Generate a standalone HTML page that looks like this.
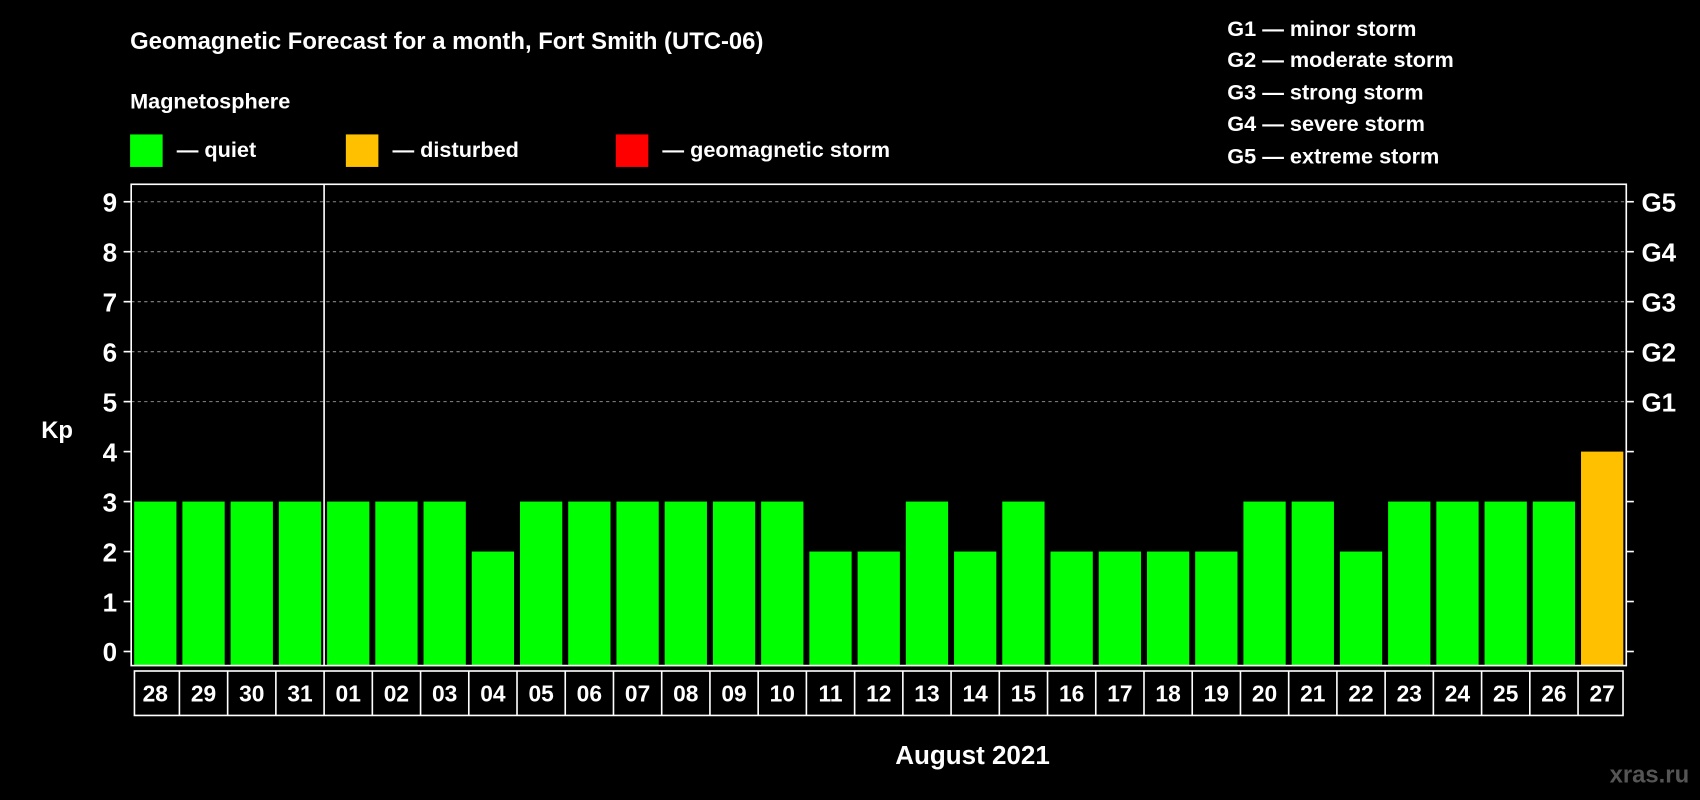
<!DOCTYPE html>
<html><head><meta charset="utf-8"><style>
html,body{margin:0;padding:0;background:#000;}
svg{display:block;font-family:"Liberation Sans",sans-serif;font-weight:bold;}
</style></head><body>
<svg id="chart" width="1700" height="800" viewBox="0 0 1568 738" preserveAspectRatio="none" xmlns="http://www.w3.org/2000/svg">
<rect width="1568" height="738" fill="#000"/>
<text x="120" y="45" fill="#fff" font-size="22">Geomagnetic Forecast for a month, Fort Smith (UTC-06)</text>
<text x="120" y="100" fill="#fff" font-size="20">Magnetosphere</text>
<g><rect x="120" y="124" width="30" height="30" fill="#00ff00"/><text x="163" y="145" fill="#fff" font-size="20">— quiet</text></g>
<g><rect x="319" y="124" width="30" height="30" fill="#ffc000"/><text x="362" y="145" fill="#fff" font-size="20">— disturbed</text></g>
<g><rect x="568" y="124" width="30" height="30" fill="#ff0000"/><text x="611" y="145" fill="#fff" font-size="20">— geomagnetic storm</text></g>
<g fill="#fff" font-size="20">
<text x="1132" y="33">G1 — minor storm</text>
<text x="1132" y="62">G2 — moderate storm</text>
<text x="1132" y="92">G3 — strong storm</text>
<text x="1132" y="121">G4 — severe storm</text>
<text x="1132" y="151">G5 — extreme storm</text>
</g>
<text x="38" y="404" fill="#fff" font-size="22">Kp</text>
<text x="897" y="705" fill="#fff" font-size="24" text-anchor="middle">August 2021</text>
<text x="1558" y="722" fill="#555" font-size="22" text-anchor="end">xras.ru</text>
<g id="grid"></g>
<g id="bars"></g>
<g id="axes"></g>
</svg>
<script>
const dates=["28","29","30","31","01","02","03","04","05","06","07","08","09","10","11","12","13","14","15","16","17","18","19","20","21","22","23","24","25","26","27"];
const kpValues=[3,3,3,3,3,3,3,2,3,3,3,3,3,3,2,2,3,2,3,2,2,2,2,3,3,2,3,3,3,3,4];
const yTicks=[0,1,2,3,4,5,6,7,8,9];
const gLabels=["G1","G2","G3","G4","G5"];
const NS="http://www.w3.org/2000/svg";
const L=121,R=1500,T=170,B=614;
const y=v=>601-v*46.1;
const step=(R-L)/dates.length;
const x=i=>L+step*(i+0.5);
function mk(tag,attrs,parent,text){const e=document.createElementNS(NS,tag);for(const k in attrs)e.setAttribute(k,attrs[k]);if(text!==undefined)e.textContent=text;parent.appendChild(e);return e;}
const grid=document.getElementById('grid'),bars=document.getElementById('bars'),axes=document.getElementById('axes');
yTicks.forEach(v=>{
 if(v>=5){const g=mk('line',{x1:L,x2:R,y1:y(v),y2:y(v),stroke:'#888','stroke-dasharray':'3,3','stroke-width':1},grid);
 
 }
 const tl=mk('line',{x1:L-7,x2:L,y1:y(v),y2:y(v),stroke:'#fff','stroke-width':1.5},axes);
 
 
 const tr=mk('line',{x1:R,x2:R+7,y1:y(v),y2:y(v),stroke:'#fff','stroke-width':1.5},axes);
 
 
 const t=mk('text',{x:L-13,y:y(v)+9,fill:'#fff','font-size':24,'text-anchor':'end'},axes,String(v));
 
 
});
gLabels.forEach((g,i)=>{
 const t=mk('text',{x:R+14,y:y(5+i)+9,fill:'#fff','font-size':24},axes,g);
 
 
});
kpValues.forEach((v,i)=>{
 const col=v>=5?'#ff0000':(v>=4?'#ffc000':'#00ff00');
 const r=mk('rect',{x:x(i)-19.5,y:y(v),width:39,height:y(0)-y(v)+13,fill:col},bars);
 
 
});
const frame=mk('rect',{x:L,y:T,width:R-L,height:B-T,fill:'none',stroke:'#fff','stroke-width':1.5},axes);


const sep=mk('line',{x1:L+step*4,x2:L+step*4,y1:T,y2:B,stroke:'#fff','stroke-width':1.5},axes);


const box=mk('rect',{x:L+3,y:619,width:R-L-6,height:41,fill:'none',stroke:'#fff','stroke-width':1.5},axes);


dates.forEach((d,i)=>{
 if(i>0){const l=mk('line',{x1:L+step*i,x2:L+step*i,y1:619,y2:660,stroke:'#fff','stroke-width':1.5},axes);
 
 }
 const t=mk('text',{x:x(i),y:647,fill:'#fff','font-size':21,'text-anchor':'middle'},axes,d);
 
 
});
</script>
</body></html>
